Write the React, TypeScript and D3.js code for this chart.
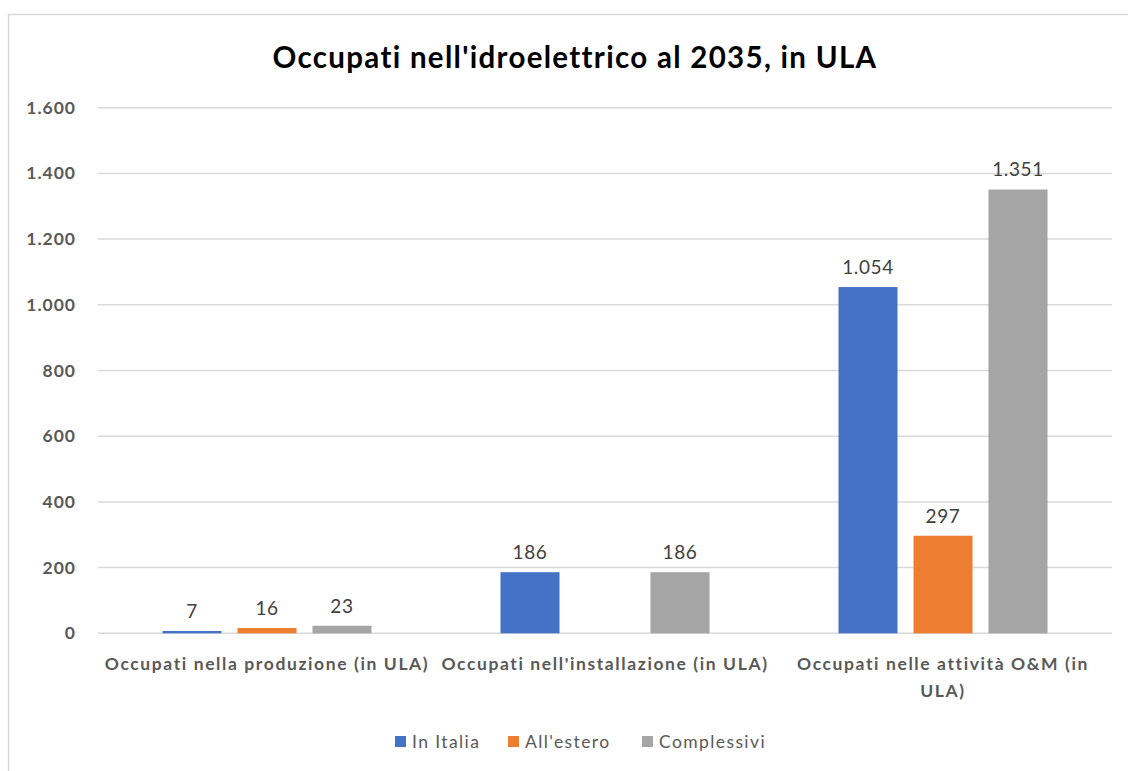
import React from "react";
import * as d3 from "d3";

// chart data
const categories = [
  ["Occupati nella produzione (in ULA)"],
  ["Occupati nell'installazione (in ULA)"],
  ["Occupati nelle attività O&M (in", "ULA)"],
];
const seriesNames = ["In Italia", "All'estero", "Complessivi"];
const inItalia = [7, 186, 1054];
const allEstero = [16, null, 297];
const complessivi = [23, 186, 1351];
const yTicks = [0, 200, 400, 600, 800, 1000, 1200, 1400, 1600];

const colors = ["#4472c4", "#ed7d31", "#a5a5a5"];
const font = "Lato, 'Open Sans', sans-serif";

const itLocale = d3.formatLocale({
  decimal: ",",
  thousands: ".",
  grouping: [3],
  currency: ["", "€"],
});
const fmt = itLocale.format(",d");

const App = () => {
  const width = 1128;
  const height = 771;
  const plot = { left: 98, right: 1112, top: 107.7, bottom: 633.3 };

  const y = d3.scaleLinear().domain([0, 1600]).range([plot.bottom, plot.top]);
  const x0 = d3
    .scaleBand<number>()
    .domain(categories.map((_, i) => i))
    .range([plot.left, plot.right])
    .padding(0);
  const x1 = d3
    .scaleBand<number>()
    .domain([0, 1, 2])
    .range([0, x0.bandwidth()])
    .paddingInner(0.213)
    .paddingOuter(0.86);

  const series = [inItalia, allEstero, complessivi];

  return (
    <svg
      width={width}
      height={height}
      style={{ position: "absolute", left: 0, top: 0, background: "#fff" }}
    >
      {/* chart border */}
      <rect x={8.5} y={14.5} width={1130} height={800} fill="#fff" stroke="#d9d9d9" strokeWidth={1.5} />

      <text
        x={575}
        y={68}
        textAnchor="middle"
        fontFamily={font}
        fontWeight="bold"
        fontSize={29.5}
        letterSpacing={1.3}
        fill="#000"
      >
        Occupati nell'idroelettrico al 2035, in ULA
      </text>

      {/* gridlines and y labels */}
      {yTicks.map((t) => (
        <g key={t}>
          <line x1={plot.left} x2={plot.right} y1={y(t)} y2={y(t)} stroke="#d9d9d9" strokeWidth={1.5} />
          <text
            x={76}
            y={y(t) + 6}
            textAnchor="end"
            fontFamily={font}
            fontWeight="bold"
            fontSize={17.5}
            letterSpacing={1}
            fill="#595959"
          >
            {fmt(t)}
          </text>
        </g>
      ))}

      {/* bars */}
      {series.map((vals, s) =>
        vals.map((v, i) => {
          if (v == null) return null;
          const bx = (x0(i) ?? 0) + (x1(s) ?? 0);
          const bw = x1.bandwidth();
          return (
            <g key={`${s}-${i}`}>
              <rect x={bx} y={y(v)} width={bw} height={y(0) - y(v)} fill={colors[s]} />
              <text
                x={bx + bw / 2}
                y={y(v) - 13}
                textAnchor="middle"
                fontFamily={font}
                fontSize={19}
                letterSpacing={0.6}
                fill="#404040"
              >
                {fmt(v)}
              </text>
            </g>
          );
        })
      )}

      {/* category labels */}
      {categories.map((lines, i) => (
        <text
          key={i}
          textAnchor="middle"
          fontFamily={font}
          fontWeight="bold"
          fontSize={17.5}
          letterSpacing={1.6}
          fill="#595959"
        >
          {lines.map((l, j) => (
            <tspan key={j} x={(x0(i) ?? 0) + x0.bandwidth() / 2} y={670 + j * 27}>
              {l}
            </tspan>
          ))}
        </text>
      ))}

      {/* legend */}
      {seriesNames.map((name, s) => {
        const lx = [395, 508, 642][s];
        return (
          <g key={name}>
            <rect x={lx} y={736} width={11} height={11} fill={colors[s]} />
            <text x={lx + 17} y={748} fontFamily={font} fontSize={17.5} letterSpacing={1.4} fill="#595959">
              {name}
            </text>
          </g>
        );
      })}
    </svg>
  );
};

export default App;
